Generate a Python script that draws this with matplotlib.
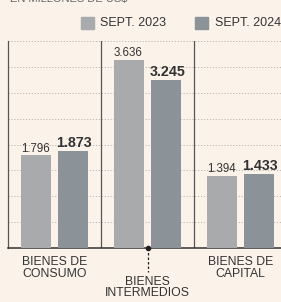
import matplotlib
matplotlib.use("Agg")
import matplotlib.pyplot as plt
import matplotlib.patches as mpatches
import numpy as np

# ── Data ──────────────────────────────────────────────────────────────────────
categories = ["BIENES DE\nCONSUMO", "BIENES\nINTERMEDIOS", "BIENES DE\nCAPITAL"]
series_names = ["SEPT. 2023", "SEPT. 2024"]
sept_2023 = [1.796, 3.636, 1.394]
sept_2024 = [1.873, 3.245, 1.433]
grid_ticks = [0.5, 1.0, 1.5, 2.0, 2.5, 3.0, 3.5, 4.0]

# ── Palette ───────────────────────────────────────────────────────────────────
BG = "#FBF2EA"
C23 = "#A9AAAB"
C24 = "#8B9298"
LINE = "#555555"
GRID = "#BDB7B1"
TXT = "#333333"
FONT = ["Liberation Sans", "DejaVu Sans"]

W, H = 281, 302
fig = plt.figure(figsize=(W / 100, H / 100), dpi=100)
fig.patch.set_facecolor(BG)

# axes: left edge x=8px, baseline y=248px, top gridline y=41px
ax = fig.add_axes([8 / W, (H - 248) / H, 1 - 8 / W, (248 - 41) / H])
ax.set_facecolor(BG)
ax.set_xlim(-0.5, -0.5 + (W - 8) / 93)
ax.set_ylim(0, 4.0)

x = np.arange(len(categories))
bw = 0.323
off = 0.199

for g in grid_ticks:
    ax.axhline(g, color=GRID, lw=0.7, ls=(0, (1.2, 1.8)), zorder=1, clip_on=False)

for d in [0.5, 1.5]:
    ax.axvline(d, color=LINE, lw=0.9, zorder=2)

ax.bar(x - off, sept_2023, bw, color=C23, zorder=3)
ax.bar(x + off, sept_2024, bw, color=C24, zorder=3)

for xi, v in zip(x - off, sept_2023):
    ax.annotate(f"{v:.3f}", (xi, v), xytext=(-0.5, 2.5), textcoords="offset points",
                ha="center", va="baseline", fontsize=8.3, color=TXT, family=FONT)
for xi, v in zip(x + off, sept_2024):
    ax.annotate(f"{v:.3f}", (xi, v), xytext=(1, 3), textcoords="offset points",
                ha="center", va="baseline", fontsize=10.3, fontweight="bold",
                color=TXT, family=FONT)

for s in ["top", "right"]:
    ax.spines[s].set_visible(False)
ax.spines["left"].set_color(LINE)
ax.spines["left"].set_linewidth(0.9)
ax.spines["bottom"].set_color("#333333")
ax.spines["bottom"].set_linewidth(1.1)
ax.set_xticks([])
ax.set_yticks([])

# category labels
tr = ax.get_xaxis_transform()
label_y = [-0.04, -0.135, -0.04]
for xi, lab, ly in zip(x, categories, label_y):
    ax.text(xi, ly, lab, transform=tr, ha="center", va="top", fontsize=8.8,
            color=TXT, family=FONT, linespacing=0.95, clip_on=False)

# leader for the middle label
ax.plot([1, 1], [0, -0.46], color="#222222", lw=0.9, ls=(0, (2, 1.6)),
        clip_on=False, zorder=4)
ax.plot([1], [0], "o", color="#222222", ms=3, clip_on=False, zorder=5)

# ── Legend ────────────────────────────────────────────────────────────────────
for sx, tx, col, name in [(81, 100, C23, series_names[0]), (195, 215, C24, series_names[1])]:
    fig.patches.append(mpatches.Rectangle((sx / W, (H - 29) / H), 13 / W, 12 / H,
                                          transform=fig.transFigure, color=col))
    fig.text(tx / W, (H - 23) / H, name, ha="left", va="center", fontsize=9,
             color=TXT, family=FONT)

# cropped subtitle at the very top
fig.text(10 / W, (H - 2) / H, "EN MILLONES DE US$", ha="left", va="baseline",
         fontsize=8, color="#666666", family=FONT)

fig.savefig("out.png", dpi=100, facecolor=BG)
